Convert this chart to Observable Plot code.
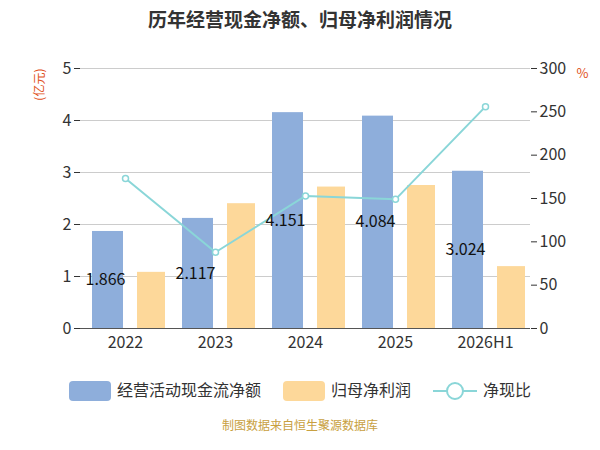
<!DOCTYPE html>
<html><head><meta charset="utf-8">
<script src="https://cdn.jsdelivr.net/npm/d3@7"></script>
<script src="https://cdn.jsdelivr.net/npm/@observablehq/plot@0.6"></script>
<style>
body{margin:0;width:600px;font-family:"Noto Sans CJK SC","Noto Sans",sans-serif;background:#fff}
#title{height:40px;line-height:38px;text-align:center;font-size:19px;font-weight:bold;color:#333}
#legend{display:flex;justify-content:center;gap:22px;font-size:16px;color:#333;height:50px;align-items:center;margin-top:4px}
.sw{display:inline-block;width:42px;height:20px;border-radius:4px;vertical-align:middle;margin-right:6px}
#cap{text-align:center;font-size:12px;color:#c8a040;margin-top:2px}
</style></head><body>
<div id="title">历年经营现金净额、归母净利润情况</div>
<div id="chart"></div>
<div id="legend">
<span><span class="sw" style="background:#8eaedb"></span>经营活动现金流净额</span>
<span><span class="sw" style="background:#fdd89a"></span>归母净利润</span>
<span><svg width="44" height="20" style="vertical-align:middle;margin-right:6px"><line x1="0" y1="10" x2="44" y2="10" stroke="#8ad6d8" stroke-width="2"/><circle cx="22" cy="10" r="8" fill="#fff" stroke="#8ad6d8" stroke-width="2"/></svg>净现比</span>
</div>
<div id="cap">制图数据来自恒生聚源数据库</div>
<script>
const years=["2022","2023","2024","2025","2026H1"];
const cashFlow=[1.866,2.117,4.151,4.084,3.024];
const netProfit=[1.08,2.40,2.72,2.75,1.19];
const ratio=[173,88,153,149,256];
const cf=years.map((y,i)=>({year:y,v:cashFlow[i]}));
const np=years.map((y,i)=>({year:y,v:netProfit[i]}));
const rt=years.map((y,i)=>({year:y,v:ratio[i]/60}));
const chart=Plot.plot({
  width:600,height:320,marginTop:28,marginBottom:32,marginLeft:80,marginRight:70,
  style:{fontSize:"16px",fontFamily:"Noto Sans CJK SC, Noto Sans, sans-serif",color:"#333"},
  x:{domain:years,padding:0,label:null},
  y:{domain:[0,5],label:null},
  marks:[
    Plot.gridY([0,1,2,3,4,5],{stroke:"#ccc",strokeOpacity:1}),
    Plot.axisY([0,1,2,3,4,5],{anchor:"left",tickSize:6,label:null,tickFormat:d=>String(d),fontSize:16}),
    Plot.axisY([0,0.8333,1.6667,2.5,3.3333,4.1667,5],{anchor:"right",tickSize:6,label:null,tickFormat:d=>Math.round(d*60),fontSize:16}),
    Plot.axisX({tickSize:0,label:null,fontSize:16,tickPadding:8}),
    Plot.barY(cf,{x:"year",y:"v",fill:"#8eaedb",insetLeft:12,insetRight:47}),
    Plot.barY(np,{x:"year",y:"v",fill:"#fdd89a",insetLeft:57,insetRight:5}),
    Plot.line(rt,{x:"year",y:"v",stroke:"#8ad6d8",strokeWidth:2}),
    Plot.dot(rt,{x:"year",y:"v",r:3,fill:"#fff",stroke:"#8ad6d8",strokeWidth:1.5}),
    Plot.text(cf,{x:"year",y:d=>d.v/2,text:d=>d.v.toFixed(3),dx:-20,fontSize:16,fill:"#111"}),
    Plot.ruleY([0],{stroke:"#555"}),
    Plot.text(["(亿元)"],{frameAnchor:"top-left",dx:-45,dy:0,rotate:-90,textAnchor:"end",fill:"#e05020",fontSize:12}),
    Plot.text(["%"],{frameAnchor:"top-right",dx:58,dy:0,fill:"#e05020",fontSize:13})
  ]
});
document.getElementById("chart").appendChild(chart);
</script></body></html>
